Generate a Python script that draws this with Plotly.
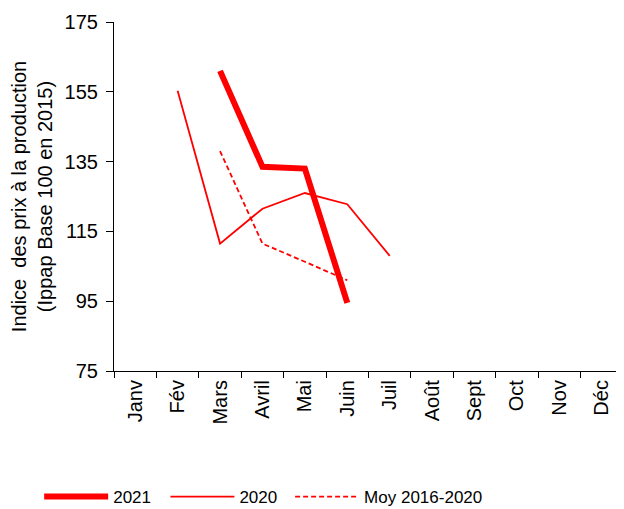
import plotly.graph_objects as go

months = ["Janv", "Fév", "Mars", "Avril", "Mai", "Juin", "Juil", "Août", "Sept", "Oct", "Nov", "Déc"]
y2021_months = ["Mars", "Avril", "Mai", "Juin"]
y2021 = [161, 133.5, 133, 94.5]
y2020_months = ["Fév", "Mars", "Avril", "Mai", "Juin", "Juil"]
y2020 = [155.3, 111.5, 121.5, 126, 122.8, 108]
moy_months = ["Mars", "Avril", "Mai", "Juin"]
moy = [138, 111.5, 106.3, 101]
y_ticks = [75, 95, 115, 135, 155, 175]

font = "Liberation Sans, Arial, sans-serif"
fig = go.Figure()
fig.add_trace(go.Scatter(x=y2021_months, y=y2021, mode="lines", name="2021",
                         line=dict(color="#ff0000", width=6), legend="legend"))
fig.add_trace(go.Scatter(x=y2020_months, y=y2020, mode="lines", name="2020",
                         line=dict(color="#ff0000", width=1.8), legend="legend2"))
fig.add_trace(go.Scatter(x=moy_months, y=moy, mode="lines", name="Moy 2016-2020",
                         line=dict(color="#ff0000", width=1.8, dash="5px,3px"), legend="legend3"))

leg_common = dict(orientation="h", y=-0.361, yanchor="middle", xanchor="left",
                  font=dict(size=17, family=font), itemwidth=64, bgcolor="rgba(0,0,0,0)")

# page body has an 8px margin, so the figure is 8px smaller in each direction
fig.update_layout(
    width=616, height=501,
    margin=dict(l=106, r=1, t=14, b=138, autoexpand=False),
    paper_bgcolor="white", plot_bgcolor="white",
    font=dict(family=font, size=20, color="black"),
    showlegend=True,
    legend=dict(x=-0.147, **leg_common),
    legend2=dict(x=0.101, **leg_common),
    legend3=dict(x=0.346, **leg_common),
    xaxis=dict(type="category", categoryorder="array", categoryarray=months,
               range=[-0.5, 11.5], tickangle=-90, showline=True, linecolor="black",
               linewidth=1.2, ticks="outside", tickson="boundaries", ticklen=6,
               tickcolor="black", showgrid=False, zeroline=False, automargin=False),
    yaxis=dict(range=[75, 175], tickvals=y_ticks, showline=True, linecolor="black",
               linewidth=1.2, ticks="outside", ticklen=7, tickcolor="black",
               showgrid=False, zeroline=False, automargin=False, ticklabelstandoff=4,
               title=dict(text="Indice  des prix à la production<br>(Ippap Base 100 en 2015)",
                          font=dict(size=20), standoff=10)),
)
fig.write_html("out.html")
